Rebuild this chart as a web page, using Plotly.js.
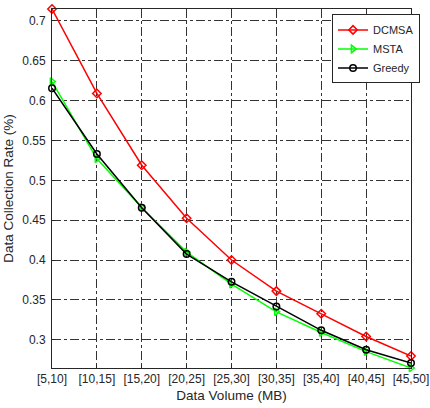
<!DOCTYPE html>
<html>
<head>
<meta charset="utf-8">
<script src="https://cdn.plot.ly/plotly-3.0.1.min.js"></script>
<style>html,body{margin:0;padding:0;background:#fff;}#chart{width:430px;height:408px;}</style>
</head>
<body>
<div id="chart"></div>
<script>
var categories = ["[5,10]","[10,15]","[15,20]","[20,25]","[25,30]","[30,35]","[35,40]","[40,45]","[45,50]"];
var dcmsa  = [0.715, 0.609, 0.519, 0.4525, 0.400, 0.361, 0.3325, 0.304, 0.2795];
var msta   = [0.624, 0.527, 0.466, 0.410, 0.3697, 0.335, 0.309, 0.285, 0.2645];
var greedy = [0.6155, 0.533, 0.4656, 0.4075, 0.3726, 0.3417, 0.3118, 0.2874, 0.2707];
var yTicks = [0.3, 0.35, 0.4, 0.45, 0.5, 0.55, 0.6, 0.65, 0.7];
var yTickText = ["0.3","0.35","0.4","0.45","0.5","0.55","0.6","0.65","0.7"];

var font = "Liberation Sans, Arial, sans-serif";
function tr(name, y, color, symbol) {
  return {
    x: categories, y: y, name: name, type: 'scatter', mode: 'lines+markers',
    line: {color: color, width: 1.5},
    marker: {symbol: symbol, size: 6.5, color: color, line: {color: color, width: 1.5}},
    cliponaxis: false
  };
}
var data = [
  tr('DCMSA', dcmsa, '#ff0000', 'diamond-open'),
  tr('MSTA', msta, '#00ff00', 'triangle-right-open'),
  tr('Greedy', greedy, '#000000', 'circle-open')
];
var layout = {
  width: 430, height: 408,
  margin: {l: 52, r: 19, t: 9, b: 40},
  paper_bgcolor: '#fff', plot_bgcolor: '#fff',
  font: {family: font, size: 12, color: '#262626'},
  showlegend: true,
  legend: {
    x: 0.78, y: 0.985, xanchor: 'left', yanchor: 'top',
    bgcolor: '#fff', bordercolor: '#262626', borderwidth: 1,
    font: {family: font, size: 11, color: '#262626'},
    tracegroupgap: 0, itemwidth: 30
  },
  xaxis: {
    type: 'category', categoryorder: 'array', categoryarray: categories,
    range: [0, 8],
    showgrid: true, gridcolor: '#333', griddash: 'dashdot', gridwidth: 1,
    showline: true, linecolor: '#262626', linewidth: 1, mirror: true,
    ticks: 'inside', ticklen: 3, tickcolor: '#262626',
    tickfont: {family: font, size: 12, color: '#262626'},
    zeroline: false,
    title: {text: 'Data Volume (MB)', font: {family: font, size: 13.5, color: '#262626'}, standoff: 5}
  },
  yaxis: {
    range: [0.2645, 0.715],
    tickvals: yTicks, ticktext: yTickText,
    showgrid: true, gridcolor: '#333', griddash: 'dashdot', gridwidth: 1,
    showline: true, linecolor: '#262626', linewidth: 1, mirror: true,
    ticks: 'inside', ticklen: 3, tickcolor: '#262626',
    ticklabelstandoff: 3,
    tickfont: {family: font, size: 12, color: '#262626'},
    zeroline: false,
    title: {text: 'Data Collection Rate (%)', font: {family: font, size: 13.5, color: '#262626'}, standoff: 5}
  }
};
Plotly.newPlot('chart', data, layout, {displayModeBar: false, staticPlot: true});
</script>
</body>
</html>
